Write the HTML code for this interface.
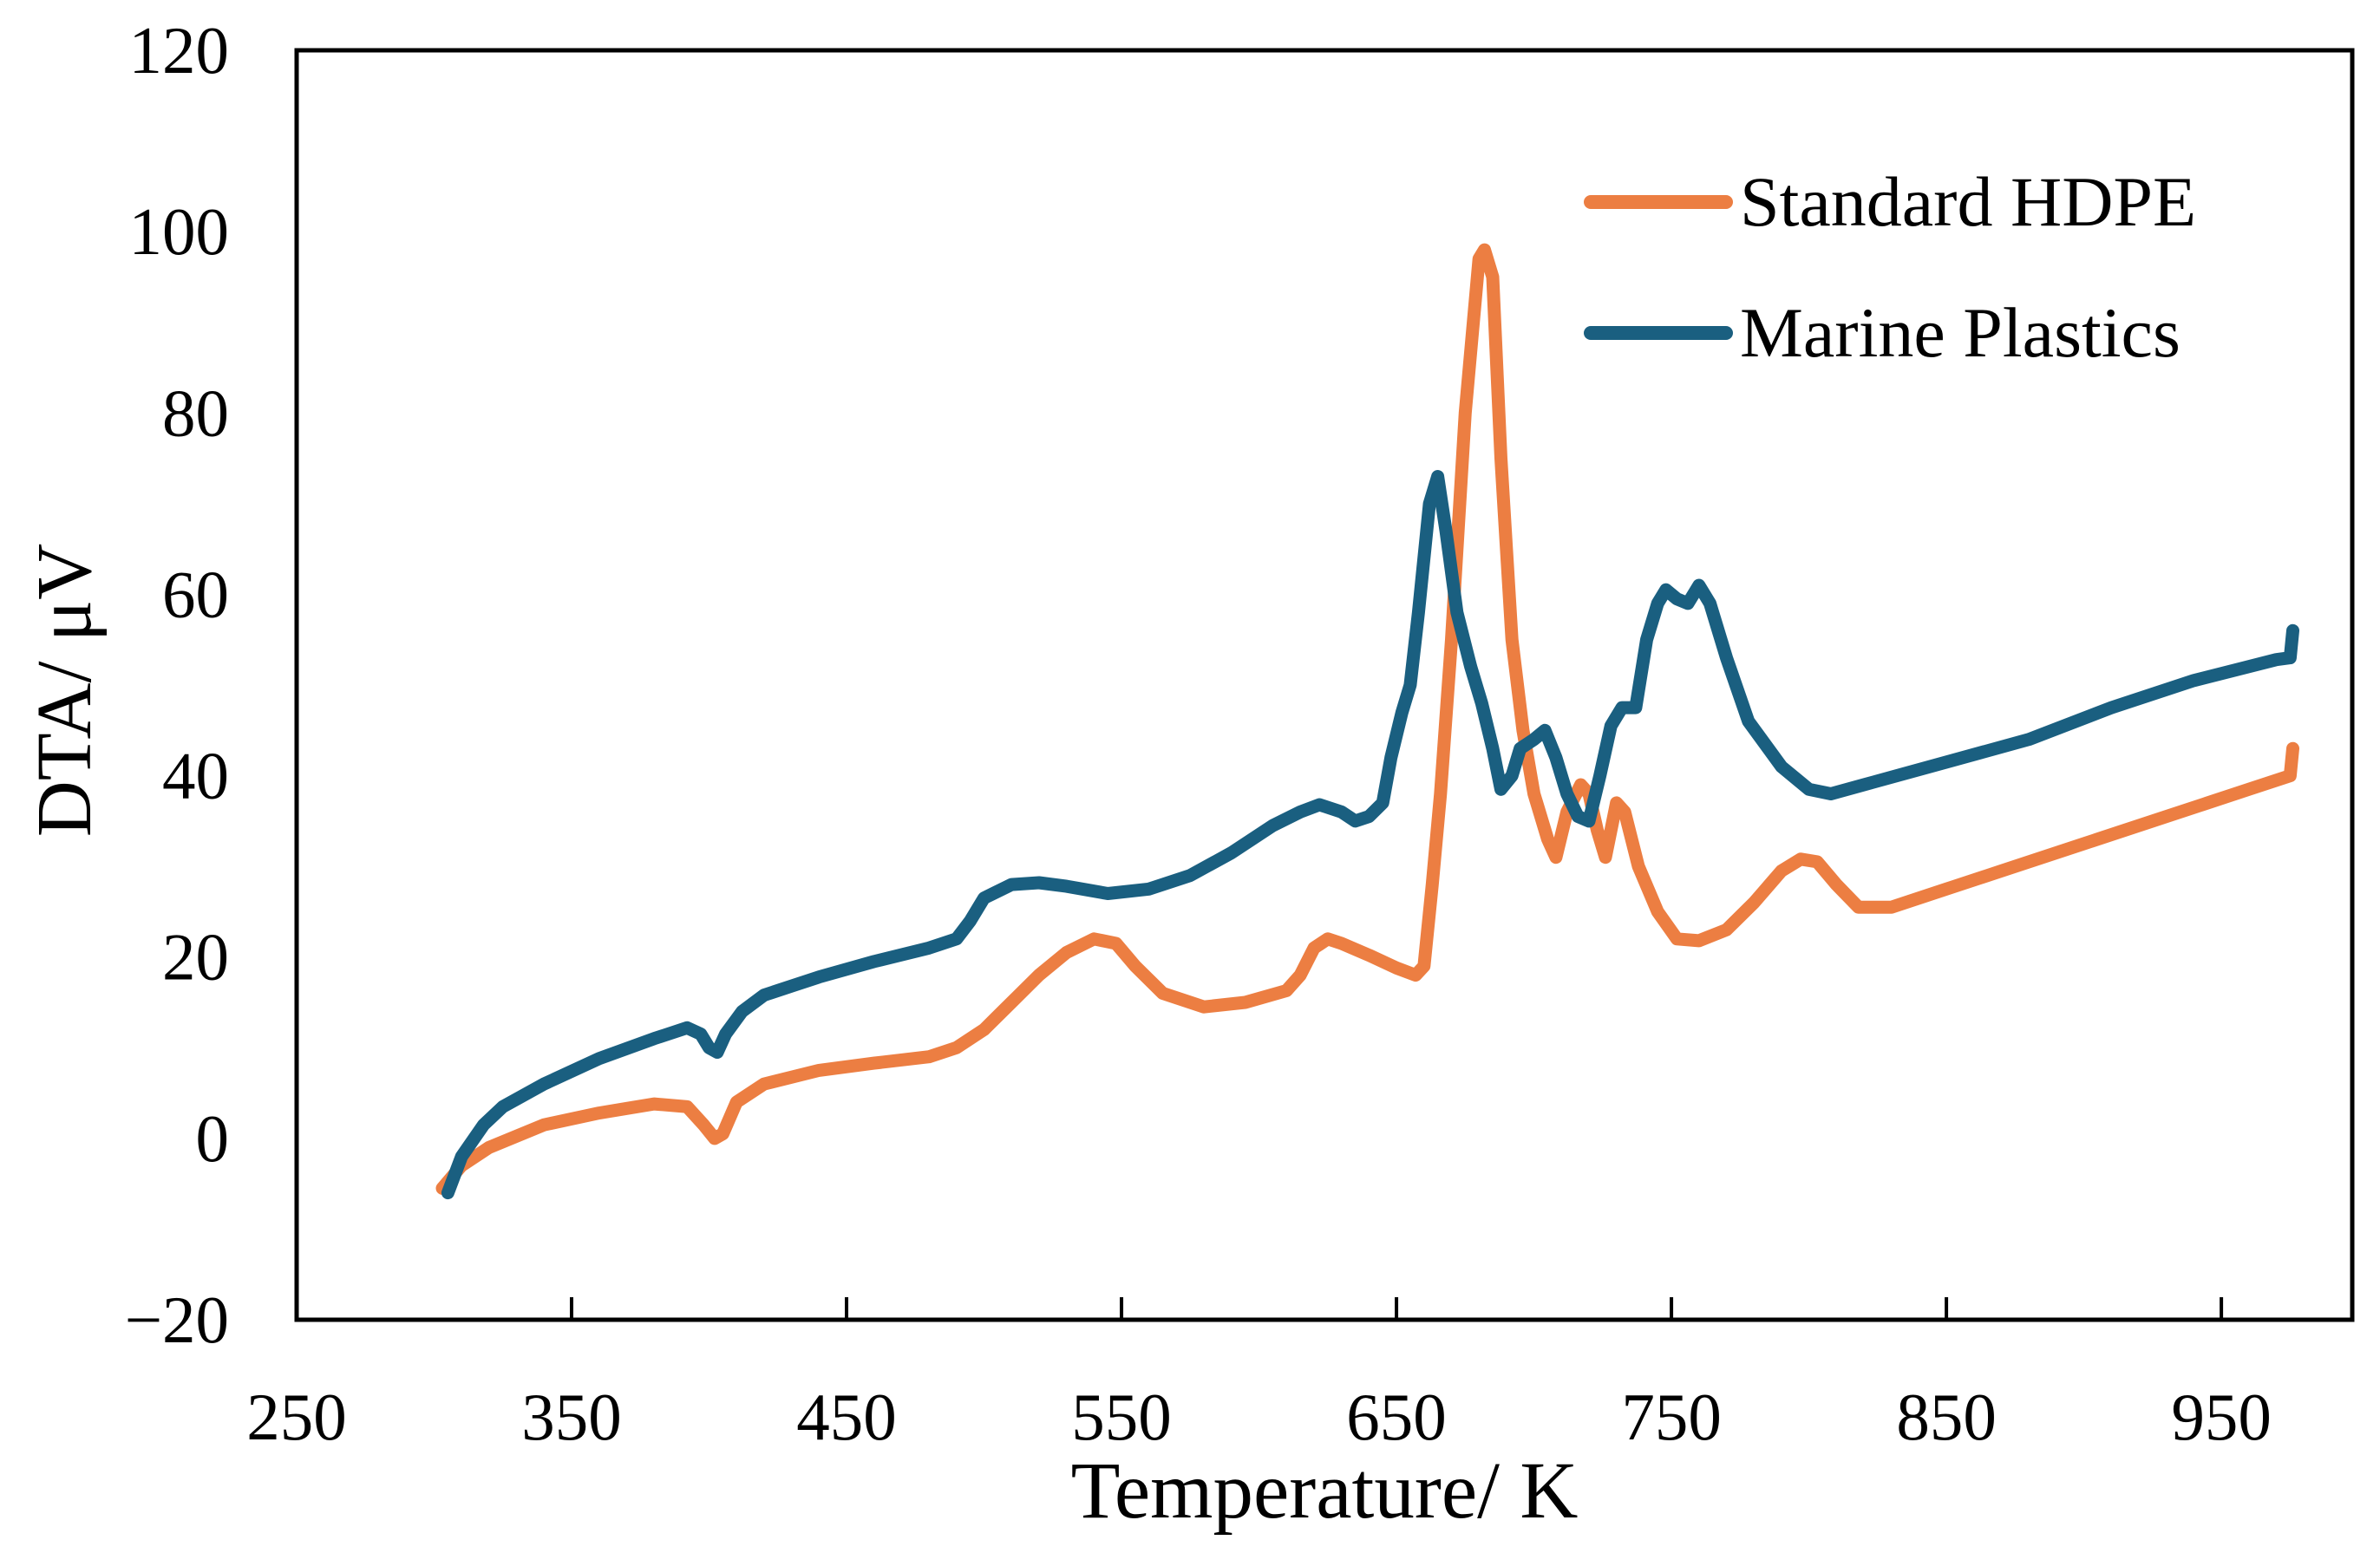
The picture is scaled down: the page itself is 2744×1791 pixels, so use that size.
<!DOCTYPE html>
<html><head><meta charset="utf-8"><style>
html,body{margin:0;padding:0;background:#fff;}
svg{display:block;font-family:"Liberation Serif",serif;}
</style></head><body>
<svg id="chart" width="2744" height="1791" viewBox="0 0 2744 1791" xmlns="http://www.w3.org/2000/svg">
<rect x="342" y="58" width="2370" height="1464" fill="none" stroke="#000" stroke-width="5"/>
<g id="ticks"></g>
<g id="series"></g>
<text x="1527" y="1750" font-size="93" text-anchor="middle">Temperature/ K</text>
<text transform="translate(104,796) rotate(-90)" font-size="90" text-anchor="middle">DTA/ μV</text>
<g>
<line x1="1834" y1="233" x2="1990" y2="233" stroke="#ec7e42" stroke-width="16" stroke-linecap="round"/>
<text x="2006" y="260" font-size="82">Standard HDPE</text>
<line x1="1834" y1="384" x2="1990" y2="384" stroke="#1a5f80" stroke-width="16" stroke-linecap="round"/>
<text x="2006" y="411" font-size="82">Marine Plastics</text>
</g>
</svg>
<script>
const xTicks = [250,350,450,550,650,750,850,950];
const yTicks = [-20,0,20,40,60,80,100,120];
const hdpeT = [303,310,320,340,360,380,392,398,402,405,410,420,440,460,480,490,500,510,520,530,540,548,555,565,580,595,610,615,620,625,630,640,650,657,660,663,666,670,675,680,682,685,688,692,696,700,705,708,712,717,720,723,726,730,733,738,745,752,760,770,780,790,797,803,810,818,830,850,870,900,930,960,975,976];
const hdpeV = [-5.5,-3,-1,1.5,2.8,3.8,3.5,1.5,0,0.5,4,6,7.5,8.3,9,10,12,15,18,20.5,22,21.5,19,16,14.5,15,16.3,18,21,22,21.5,20.2,18.8,18,19,28,38,55,80,97,98,95,75,55,45,38,33,31,36,39,38,34,31,37,36,30,25,22,21.8,23,26,29.5,30.8,30.5,28,25.5,25.5,27.5,29.5,32.5,35.5,38.5,40,43];
const marineT = [305,310,318,325,340,360,380,392,397,400,403,406,412,420,440,460,480,490,495,500,510,520,530,545,560,575,590,605,615,622,630,635,640,645,648,652,655,658,662,665,668,672,677,681,685,688,692,695,700,704,708,712,716,720,724,728,732,737,741,745,748,752,756,760,764,770,778,790,800,808,820,850,880,910,940,970,975,976];
const marineV = [-6,-2,1.5,3.5,6,8.8,11,12.2,11.5,10,9.5,11.5,14,15.8,17.8,19.5,21,22,24,26.5,28,28.2,27.8,27,27.5,29,31.5,34.5,36,36.8,36,35,35.5,37,42,47,50,58,70,73,67,58,52,48,43,38.5,40,43,44,45,42,38,35.5,35,40,45.5,47.5,47.5,55,59,60.5,59.5,59,61,59,53,46,41,38.5,38,39,41.5,44,47.5,50.5,52.8,53,56];
const NS='http://www.w3.org/2000/svg';
const X0=342,X1=2712,XMIN=250,XMAX=997.6,Y0=1522,Y1=58,YMIN=-20,YMAX=120;
function sx(v){return X0+(v-XMIN)/(XMAX-XMIN)*(X1-X0);}
function sy(v){return Y0-(v-YMIN)/(YMAX-YMIN)*(Y0-Y1);}
const tg=document.getElementById('ticks');
xTicks.forEach(t=>{
  const l=document.createElementNS(NS,'line');
  
  
  l.setAttribute('x1',sx(t));l.setAttribute('x2',sx(t));l.setAttribute('y1',Y0);l.setAttribute('y2',Y0-26);
  l.setAttribute('stroke','#000');l.setAttribute('stroke-width','4');tg.appendChild(l);
  const tx=document.createElementNS(NS,'text');
  
  
  tx.setAttribute('x',sx(t));tx.setAttribute('y',1660);tx.setAttribute('font-size','77');tx.setAttribute('text-anchor','middle');
  tx.textContent=t;tg.appendChild(tx);
});
yTicks.forEach(t=>{
  const tx=document.createElementNS(NS,'text');
  
  
  tx.setAttribute('x',264);tx.setAttribute('y',sy(t)+26);tx.setAttribute('font-size','77');tx.setAttribute('text-anchor','end');
  tx.textContent=(t<0?'\u2212'+Math.abs(t):t);tg.appendChild(tx);
});
function draw(T,V,color,name){
  const p=document.createElementNS(NS,'path');
  
  
  p.setAttribute('d',T.map((t,i)=>(i?'L':'M')+sx(t).toFixed(1)+','+sy(V[i]).toFixed(1)).join(''));
  p.setAttribute('fill','none');p.setAttribute('stroke',color);p.setAttribute('stroke-width','15');
  p.setAttribute('stroke-linejoin','round');p.setAttribute('stroke-linecap','round');
  document.getElementById('series').appendChild(p);
}
draw(hdpeT,hdpeV,'#ec7e42','standard-hdpe-line');
draw(marineT,marineV,'#1a5f80','marine-plastics-line');
</script>
</body></html>
